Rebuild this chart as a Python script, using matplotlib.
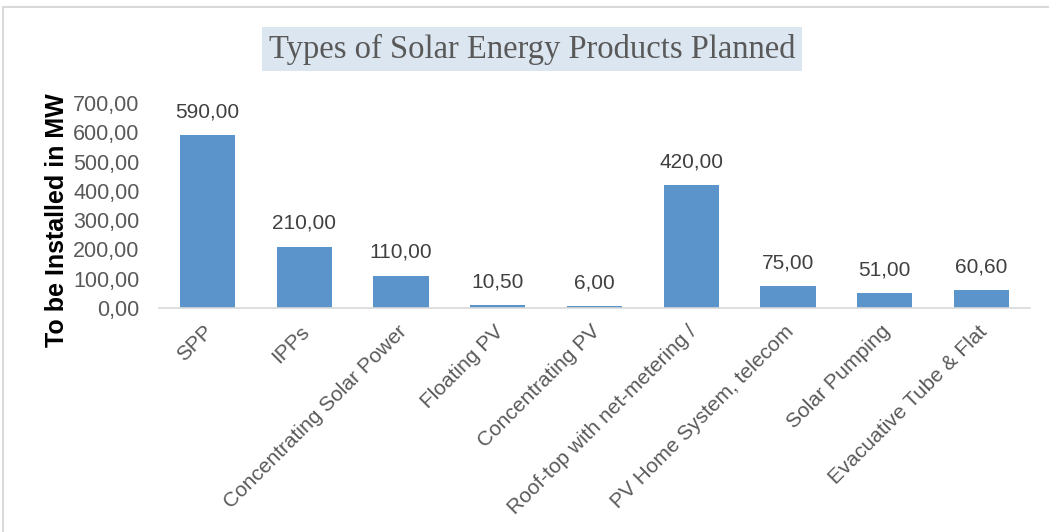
import matplotlib
matplotlib.use("Agg")
import matplotlib.pyplot as plt
from matplotlib.patches import Rectangle
import matplotlib.transforms as mtrans

categories = ["SPP", "IPPs", "Concentrating Solar Power", "Floating PV",
              "Concentrating PV", "Roof-top with net-metering /",
              "PV Home System, telecom", "Solar Pumping", "Evacuative Tube & Flat"]
values = [590.00, 210.00, 110.00, 10.50, 6.00, 420.00, 75.00, 51.00, 60.60]
yticks = [0, 100, 200, 300, 400, 500, 600, 700]

def fmt(v):
    return f"{v:.2f}".replace(".", ",")

fig = plt.figure(figsize=(10.49, 5.32), dpi=100)
ax = fig.add_axes([159/1049, 1-308/532, (1030-159)/1049, (308-103)/532])

x = list(range(len(categories)))
bars = ax.bar(x, values, width=0.57, color="#5B93CB", zorder=2)
ax.set_xlim(-0.5, len(categories)-0.5)
ax.set_ylim(0, 700)
ax.set_yticks(yticks)
ax.set_yticklabels([fmt(v) for v in yticks], fontsize=15.5, color="#595959",
                   family="Liberation Sans")
ax.tick_params(axis="y", length=0, pad=14)
ax.tick_params(axis="x", length=0, pad=10)
ax.set_xticks(x)
ax.set_xticklabels(categories, rotation=45, ha="right", va="top",
                   rotation_mode="anchor", fontsize=15, color="#595959",
                   family="Liberation Sans")
for lab in ax.get_xticklabels():
    lab.set_transform(lab.get_transform() + mtrans.ScaledTranslation(-4/100, 0, fig.dpi_scale_trans))

for s in ["top", "right", "left"]:
    ax.spines[s].set_visible(False)
ax.spines["bottom"].set_color("#d9d9d9")
ax.spines["bottom"].set_linewidth(1.2)

for xi, v in zip(x, values):
    ax.annotate(fmt(v), (xi, v), xytext=(0, 10), textcoords="offset points",
                ha="center", va="bottom", fontsize=15, color="#404040",
                family="Liberation Sans")

fig.text(57/1049, 1-220/532, "To be Installed in MW", rotation=90,
         ha="center", va="center", fontsize=18, fontweight="bold",
         color="black", family="Liberation Sans")

fig.text(532/1049, 1-49/532, "Types of Solar Energy Products Planned",
         ha="center", va="center", fontsize=23.5, color="#595959",
         family="Liberation Serif",
         bbox=dict(boxstyle="square,pad=0.2", facecolor="#dce6f0", edgecolor="none"))

fig.patches.append(Rectangle((3/1049, -0.05), 1.1, 1-7/532+0.05,
                             transform=fig.transFigure, fill=False,
                             edgecolor="#d9d9d9", linewidth=1.5))

fig.savefig("out.png", dpi=100)
